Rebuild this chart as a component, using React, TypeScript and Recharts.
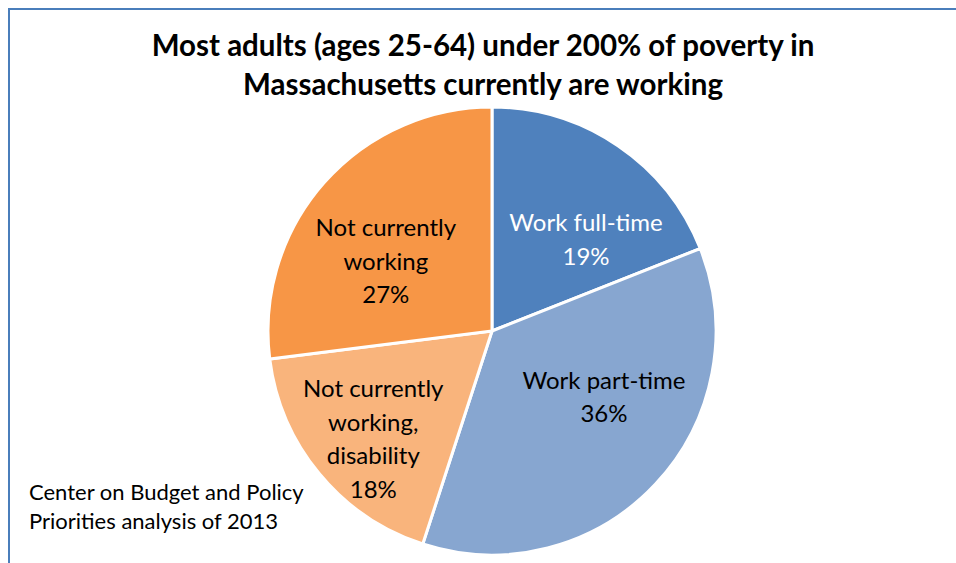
import { PieChart, Pie, Cell } from "recharts";

const CATEGORIES = [
  "Work full-time",
  "Work part-time",
  "Not currently working, disability",
  "Not currently working",
];
const SHARES = [19, 36, 18, 27];
const LABEL_LINES = [
  ["Work full-time"],
  ["Work part-time"],
  ["Not currently", "working,", "disability"],
  ["Not currently", "working"],
];

const COLORS = ["#4F81BD", "#87A6D0", "#F9B47C", "#F79646"];
const LABEL_COLORS = ["#ffffff", "#000000", "#000000", "#000000"];
// label centres, as fractions of the radius from the pie centre (Excel "best fit")
const LABEL_OFFSETS = [
  [0.42, -0.415],
  [0.5, 0.288],
  [-0.53, 0.475],
  [-0.474, -0.318],
];

const FONT = "Lato, 'Open Sans', sans-serif";

const data = CATEGORIES.map((name, i) => ({
  name,
  value: SHARES[i],
}));

function renderLabel(props: any) {
  const { cx, cy, outerRadius, index } = props;
  const [fx, fy] = LABEL_OFFSETS[index];
  const x = cx + fx * outerRadius;
  const y = cy + fy * outerRadius;
  const lines: string[] = [...LABEL_LINES[index], `${SHARES[index]}%`];
  const lh = 33.5;
  const top = y - ((lines.length - 1) * lh) / 2;
  return (
    <text
      x={x}
      y={top}
      textAnchor="middle"
      dominantBaseline="central"
      fill={LABEL_COLORS[index]}
      fontSize={24}
      fontFamily={FONT}
    >
      {lines.map((l, j) => (
        <tspan key={j} x={x} y={top + j * lh}>
          {l}
        </tspan>
      ))}
    </text>
  );
}

export default function App() {
  return (
    <div
      style={{
        position: "absolute",
        left: 0,
        top: 0,
        width: 956,
        height: 563,
        background: "#fff",
        overflow: "hidden",
        fontFamily: FONT,
      }}
    >
      <div
        style={{
          position: "absolute",
          left: 8,
          top: 8,
          width: 960,
          height: 570,
          borderLeft: "2px solid #4A7EBB",
          borderTop: "2px solid #4A7EBB",
        }}
      />
      <div
        style={{
          position: "absolute",
          left: 0,
          top: 25,
          width: 966,
          textAlign: "center",
          fontWeight: 700,
          fontSize: 29.5,
          lineHeight: "39px",
          color: "#000",
        }}
      >
        Most adults (ages 25-64) under 200% of poverty in
        <br />
        Massachusetts currently are working
      </div>
      <div
        style={{
          position: "absolute",
          left: 29,
          top: 477,
          fontSize: 22,
          lineHeight: "29px",
          color: "#000",
        }}
      >
        Center on Budget and Policy
        <br />
        Priorities analysis of 2013
      </div>
      <div style={{ position: "absolute", left: 0, top: 0 }}>
        <PieChart width={956} height={563}>
          <Pie
            data={data}
            dataKey="value"
            nameKey="name"
            cx={487}
            cy={326}
            outerRadius={224}
            startAngle={90}
            endAngle={-270}
            stroke="#ffffff"
            strokeWidth={3}
            label={renderLabel}
            labelLine={false}
            isAnimationActive={false}
          >
            {data.map((d, i) => (
              <Cell key={d.name} fill={COLORS[i]} />
            ))}
          </Pie>
        </PieChart>
      </div>
    </div>
  );
}
